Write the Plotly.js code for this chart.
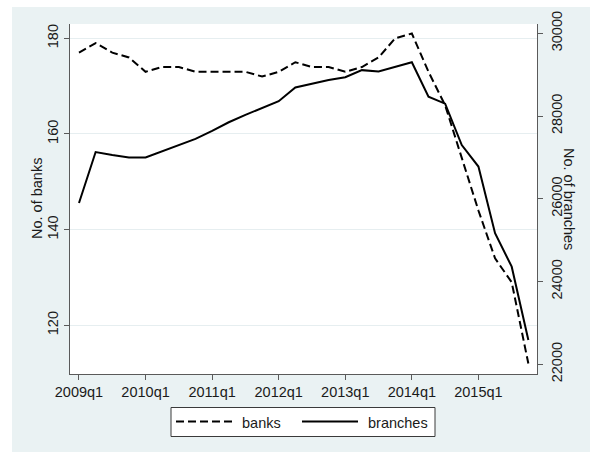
<!DOCTYPE html>
<html>
<head>
<meta charset="utf-8">
<script src="https://cdn.plot.ly/plotly-3.0.1.min.js"></script>
<style>
  html, body { margin: 0; padding: 0; background: #ffffff; }
  #chart { position: absolute; left: 12px; top: 7px; width: 578px; height: 445px; }
</style>
</head>
<body>
<div id="chart"></div>
<script>
// Quarterly observations, 2009q1 - 2015q4
const quarters = [
  '2009q1','2009q2','2009q3','2009q4',
  '2010q1','2010q2','2010q3','2010q4',
  '2011q1','2011q2','2011q3','2011q4',
  '2012q1','2012q2','2012q3','2012q4',
  '2013q1','2013q2','2013q3','2013q4',
  '2014q1','2014q2','2014q3','2014q4',
  '2015q1','2015q2','2015q3','2015q4'
];

// Number of banks (left axis)
const banks = [
  177, 179, 177, 176,
  173, 174, 174, 173,
  173, 173, 173, 172,
  173, 175, 174, 174,
  173, 174, 176, 180,
  181, 173, 166, 155,
  144, 134, 129, 112
];

// Number of branches (right axis)
const branches = [
  25900, 27130, 27060, 27000,
  27000, 27150, 27300, 27450,
  27640, 27850, 28030, 28190,
  28360, 28690, 28780, 28870,
  28940, 29110, 29080, 29190,
  29300, 28470, 28300, 27300,
  26780, 25170, 24360, 22590
];

const xTicks = ['2009q1','2010q1','2011q1','2012q1','2013q1','2014q1','2015q1'];
const leftTicks = [120, 140, 160, 180];
const rightTicks = [22000, 24000, 26000, 28000, 30000];
const seriesNames = ['banks', 'branches'];
const axisTitles = ['No. of banks', 'No. of branches'];

// page-pixel -> paper coordinate helpers (div sits at 12,7; plot area 467 x 350)
const M = { l: 58, r: 53, t: 17, b: 78 };
const W = 578, H = 445;
const PW = W - M.l - M.r, PH = H - M.t - M.b;
const px = x => (x - 12 - M.l) / PW;
const py = y => (H - M.b - (y - 7)) / PH;

const FONT = 'Arial, "Liberation Sans", sans-serif';
const FS = 14.5;
const INK = '#1a1a1a';
const AXIS = '#5a5a5a';

const traces = [
  {
    x: quarters, y: banks, name: seriesNames[0], type: 'scatter', mode: 'lines',
    line: { color: '#000000', width: 2, dash: '8px,4px' }, yaxis: 'y'
  },
  {
    x: quarters, y: branches, name: seriesNames[1], type: 'scatter', mode: 'lines',
    line: { color: '#000000', width: 2 }, yaxis: 'y2'
  }
];

const tickFont = { family: FONT, size: FS, color: INK };

const layout = {
  width: W, height: H,
  margin: M,
  paper_bgcolor: '#EAF2F3',
  plot_bgcolor: '#ffffff',
  showlegend: false,
  font: { family: FONT, size: FS, color: INK },
  xaxis: {
    type: 'category',
    range: [-0.54, 27.52],
    tickmode: 'array', tickvals: xTicks, ticktext: xTicks,
    ticks: 'outside', ticklen: 5, tickcolor: AXIS, tickwidth: 1,
    showline: true, linecolor: AXIS, linewidth: 1,
    showgrid: false, zeroline: false,
    tickfont: tickFont
  },
  yaxis: {
    range: [109.82, 182.99],
    tickmode: 'array', tickvals: leftTicks, tickangle: -90,
    ticks: 'outside', ticklen: 5, tickcolor: AXIS, tickwidth: 1,
    showline: true, linecolor: AXIS, linewidth: 1,
    showgrid: true, gridcolor: '#E6EEF0', gridwidth: 1, zeroline: false,
    tickfont: tickFont
  },
  yaxis2: {
    overlaying: 'y', side: 'right',
    range: [21766, 30225],
    tickmode: 'array', tickvals: rightTicks, tickformat: 'd', tickangle: -90,
    ticks: 'outside', ticklen: 5, tickcolor: AXIS, tickwidth: 1,
    ticklabelstandoff: 2,
    showline: true, linecolor: AXIS, linewidth: 1,
    showgrid: false, zeroline: false,
    tickfont: tickFont
  },
  annotations: [
    { text: axisTitles[0], xref: 'paper', yref: 'paper', x: px(37), y: py(199),
      textangle: -90, showarrow: false, xanchor: 'center', yanchor: 'middle',
      font: { family: FONT, size: FS, color: INK } },
    { text: axisTitles[1], xref: 'paper', yref: 'paper', x: px(569), y: py(199),
      textangle: 90, showarrow: false, xanchor: 'center', yanchor: 'middle',
      font: { family: FONT, size: FS, color: INK } },
    { text: seriesNames[0], xref: 'paper', yref: 'paper', x: px(240), y: py(422.5),
      showarrow: false, xanchor: 'left', yanchor: 'middle',
      font: { family: FONT, size: FS, color: INK } },
    { text: seriesNames[1], xref: 'paper', yref: 'paper', x: px(366), y: py(422.5),
      showarrow: false, xanchor: 'left', yanchor: 'middle',
      font: { family: FONT, size: FS, color: INK } }
  ],
  shapes: [
    // legend frame
    { type: 'rect', xref: 'paper', yref: 'paper',
      x0: px(171), x1: px(435), y0: py(436.5), y1: py(407.5),
      fillcolor: '#ffffff', line: { color: '#3a3a3a', width: 1 } },
    // legend keys
    { type: 'line', xref: 'paper', yref: 'paper',
      x0: px(176), x1: px(233), y0: py(421.5), y1: py(421.5),
      line: { color: '#000000', width: 2, dash: '8px,4px' } },
    { type: 'line', xref: 'paper', yref: 'paper',
      x0: px(302), x1: px(358), y0: py(421.5), y1: py(421.5),
      line: { color: '#000000', width: 2 } }
  ]
};

Plotly.newPlot('chart', traces, layout, { staticPlot: true, displayModeBar: false });
</script>
</body>
</html>
